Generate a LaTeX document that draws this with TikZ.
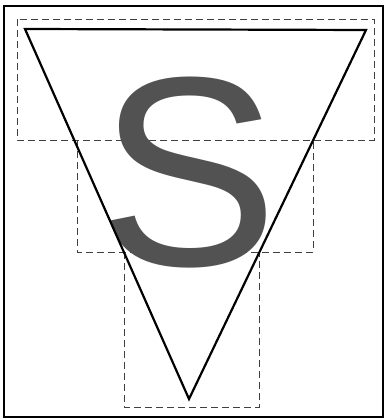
\documentclass[tikz,border=0pt]{standalone}
\usepackage{fontspec}
\setmainfont{Liberation Sans}
\begin{document}
\begin{tikzpicture}[x=1pt,y=-1pt,
  frame/.style={line width=1.8pt},
  tri/.style={line width=2.2pt,line join=miter},
  dbox/.style={line width=0.9pt,dash pattern=on 7pt off 4pt,draw=black!75}]
\useasboundingbox (0,0) rectangle (388,419);
% dashed boxes
\coordinate (r1a) at (17,19); \coordinate (r1b) at (374,140);
\coordinate (r2a) at (77,140); \coordinate (r2b) at (313,252);
\coordinate (r3a) at (124,252); \coordinate (r3b) at (259,407);
\draw[dbox] (r1a) rectangle (r1b);
\draw[dbox] (r2a) -- (r2a |- r2b) -- (r2b) -- (r2b |- r2a);
\draw[dbox] (r3a) -- (r3a |- r3b) -- (r3b) -- (r3b |- r3a);
% letter S
\node[inner sep=0pt,text=black!68,font=\fontsize{270}{270}\selectfont] (s) at (189,172.5) {S};
% triangle
\coordinate (t1) at (25,29); \coordinate (t2) at (366,30); \coordinate (t3) at (189,399);
\draw[tri] (t1) -- (t2) -- (t3) -- cycle;
% frame
\draw[frame] (4,6) rectangle (383,417);
\end{tikzpicture}
\end{document}
